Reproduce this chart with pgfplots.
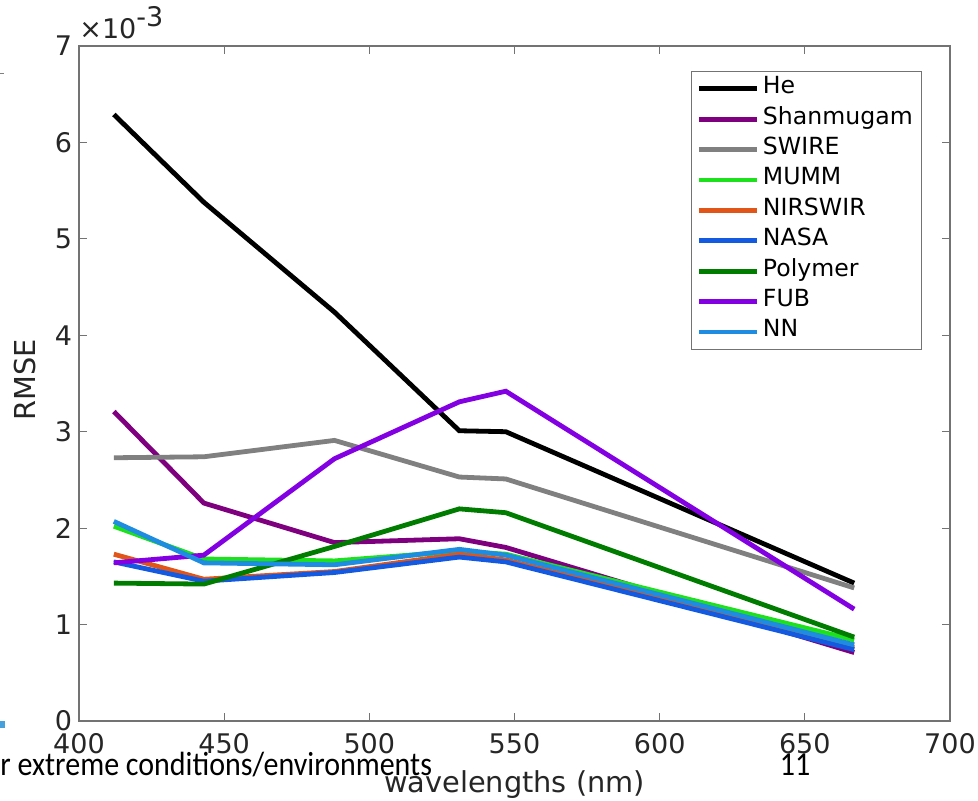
\documentclass[border=0pt]{standalone}
\usepackage{pgfplots}
\usepackage{pgfplotstable}
\pgfplotsset{compat=1.18}
\usepackage{fontspec}
\setmainfont{DejaVu Sans}
\newfontfamily\footfont{Carlito}

% RMSE in units of 1e-3
\pgfplotstableread{
wl   He   Shan  SWIRE MUMM NIRSWIR NASA Polymer FUB  NN
412  6.29 3.21  2.73  2.02 1.73    1.65 1.43    1.64 2.07
443  5.38 2.26  2.74  1.68 1.47    1.45 1.42    1.72 1.64
488  4.24 1.85  2.91  1.66 1.55    1.54 1.81    2.72 1.62
531  3.01 1.89  2.53  1.76 1.73    1.70 2.20    3.31 1.78
547  3.00 1.80  2.51  1.73 1.67    1.65 2.16    3.42 1.72
667  1.43 0.71  1.38  0.84 0.76    0.74 0.87    1.16 0.79
}\rmse

\definecolor{cShan}{RGB}{126,0,126}
\definecolor{cSwire}{RGB}{128,128,128}
\definecolor{cMumm}{RGB}{30,225,30}
\definecolor{cNir}{RGB}{225,85,25}
\definecolor{cNasa}{RGB}{20,90,225}
\definecolor{cPoly}{RGB}{0,125,0}
\definecolor{cFub}{RGB}{130,0,225}
\definecolor{cNN}{RGB}{30,140,225}

\begin{document}
\begin{tikzpicture}
\useasboundingbox (-39.5pt,-40pt) rectangle (449.5pt,360.5pt);
\begin{axis}[
    scale only axis,
    width=435.5pt,
    height=337.5pt,
    xmin=400, xmax=700,
    ymin=0, ymax=7,
    xtick={400,450,...,700},
    ytick={0,1,...,7},
    tick align=inside,
    major tick length=4pt,
    axis line style={black!55, line width=0.6pt},
    every tick/.style={black!55, line width=0.6pt},
    ticklabel style={font=\fontsize{13.5}{14}\selectfont, text=black!85},
    xticklabel style={yshift=-2.5pt},
    /pgf/number format/assume math mode=true,
    xlabel={wavelengths (nm)},
    ylabel={RMSE},
    xlabel style={font=\fontsize{14.4}{15}\selectfont, text=black!85,
        at={(axis description cs:0.5,0)}, anchor=base, yshift=-36pt},
    ylabel style={font=\fontsize{14.4}{15}\selectfont, text=black!85,
        at={(axis description cs:-0.062,0.505)}, anchor=center},
    legend cell align=left,
    legend style={at={(rel axis cs:0.7026,0.963)}, anchor=north west,
        draw=black!55, line width=0.6pt,
        font=\fontsize{11.8}{12}\selectfont,
        inner xsep=2.5pt, inner ysep=2pt, row sep=2pt,
        nodes={inner xsep=1.8pt, inner ysep=1.6pt, text height=0.75em, text depth=0.25em}},
    legend image code/.code={\draw[#1] (0pt,0pt) -- (29pt,0pt);},
    every axis plot/.append style={line width=2.4pt},
    clip=false,
]
\addplot[black] table[x=wl, y=He] {\rmse};
\addlegendentry{He}
\addplot[cShan] table[x=wl, y=Shan] {\rmse};
\addlegendentry{Shanmugam}
\addplot[cSwire] table[x=wl, y=SWIRE] {\rmse};
\addlegendentry{SWIRE}
\addplot[cMumm] table[x=wl, y=MUMM] {\rmse};
\addlegendentry{MUMM}
\addplot[cNir] table[x=wl, y=NIRSWIR] {\rmse};
\addlegendentry{NIRSWIR}
\addplot[cNasa] table[x=wl, y=NASA] {\rmse};
\addlegendentry{NASA}
\addplot[cPoly] table[x=wl, y=Polymer] {\rmse};
\addlegendentry{Polymer}
\addplot[cFub] table[x=wl, y=FUB] {\rmse};
\addlegendentry{FUB}
\addplot[cNN] table[x=wl, y=NN] {\rmse};
\addlegendentry{NN}
\node[anchor=base west, inner sep=0pt, font=\fontsize{13.5}{14}\selectfont, text=black!85]
    at (rel axis cs:0,1) [yshift=3.5pt] {×10\raisebox{0.45em}{-3}};
\end{axis}
% slide remnants around the figure
\fill[color={rgb,255:red,70;green,160;blue,220}] (-39.5pt,0pt) rectangle (-37pt,-3.5pt);
\draw[black!50, line width=0.5pt] (-39.5pt,323.5pt) -- (-37.5pt,323.5pt);
\node[anchor=base west, inner sep=0pt, font=\footfont\fontsize{15}{16}\selectfont, yscale=1.12]
    at (-39.5pt,-27.5pt) {r extreme conditions/environments};
\node[anchor=base, inner sep=0pt, font=\footfont\fontsize{15}{16}\selectfont, yscale=1.12]
    at (358pt,-27.5pt) {11};
\end{tikzpicture}
\end{document}
